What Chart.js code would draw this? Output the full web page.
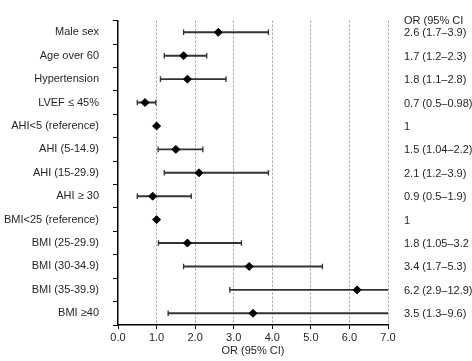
<!DOCTYPE html>
<html>
<head>
<meta charset="utf-8">
<script src="https://cdn.jsdelivr.net/npm/chart.js@4.4.1/dist/chart.umd.min.js"></script>
<style>
  html, body { margin: 0; padding: 0; background: #fff; }
  canvas { display: block; }
</style>
</head>
<body>
<canvas id="forest" width="472" height="361"></canvas>
<script>
// rows of the forest plot, top to bottom
var categories = ['Male sex', 'Age over 60', 'Hypertension', 'LVEF \u2264 45%', 'AHI<5 (reference)',
    'AHI (5-14.9)', 'AHI (15-29.9)', 'AHI \u2265 30', 'BMI<25 (reference)', 'BMI (25-29.9)',
    'BMI (30-34.9)', 'BMI (35-39.9)', 'BMI \u226540'];
var oddsRatio = [2.6, 1.7, 1.8, 0.7, 1, 1.5, 2.1, 0.9, 1, 1.8, 3.4, 6.2, 3.5];
var ciLow  = [1.7, 1.2, 1.1, 0.5, null, 1.04, 1.2, 0.5, null, 1.05, 1.7, 2.9, 1.3];
var ciHigh = [3.9, 2.3, 2.8, 0.98, null, 2.2, 3.9, 1.9, null, 3.2, 5.3, 12.9, 9.6];
// right column text as printed in the figure
var ciText = ['2.6 (1.7\u20133.9)', '1.7 (1.2\u20132.3)', '1.8 (1.1\u20132.8)', '0.7 (0.5\u20130.98)', '1',
    '1.5 (1.04\u20132.2)', '2.1 (1.2\u20133.9)', '0.9 (0.5\u20131.9)', '1', '1.8 (1.05\u20133.2',
    '3.4 (1.7\u20135.3)', '6.2 (2.9\u201312.9)', '3.5 (1.3\u20139.6)'];
var xTicks = [0, 1, 2, 3, 4, 5, 6, 7];

var textColor = '#262626';
var lineColor = '#333333';
var fontFamily = '"Liberation Sans", Arial, sans-serif';

// right hand column "OR (95% CI)"
var orColumn = {
    id: 'orColumn',
    afterDraw: function (chart) {
        var ctx = chart.ctx;
        var area = chart.chartArea;
        var yScale = chart.scales.y;
        var x = area.right + 16;
        ctx.save();
        ctx.font = '11px ' + fontFamily;
        ctx.fillStyle = textColor;
        ctx.textAlign = 'left';
        ctx.textBaseline = 'middle';
        ctx.fillText('OR (95% CI', x, area.top);
        ciText.forEach(function (txt, i) {
            ctx.fillText(txt, x, yScale.getPixelForValue(i) + 1);
        });
        ctx.restore();
    }
};

var ciBars = categories.map(function (c, i) {
    return ciLow[i] == null ? null : [ciLow[i], ciHigh[i]];
});

var ctx = document.getElementById('forest').getContext('2d');
new Chart(ctx, {
    type: 'bar',
    data: {
        labels: categories,
        datasets: [{
            type: 'line',
            indexAxis: 'y',
            data: oddsRatio,
            showLine: false,
            pointStyle: 'rectRot',
            pointRadius: 4,
            pointBackgroundColor: '#000',
            pointBorderColor: '#000',
            pointBorderWidth: 1
        }, {
            type: 'line',
            indexAxis: 'y',
            data: ciLow,
            showLine: false,
            pointStyle: 'line',
            rotation: 90,
            pointRadius: 2.8,
            pointBorderColor: lineColor,
            pointBorderWidth: 1.3
        }, {
            type: 'line',
            indexAxis: 'y',
            data: ciHigh,
            showLine: false,
            pointStyle: 'line',
            rotation: 90,
            pointRadius: 2.8,
            pointBorderColor: lineColor,
            pointBorderWidth: 1.3
        }, {
            data: ciBars,
            backgroundColor: lineColor,
            barThickness: 1.3,
            borderWidth: 0
        }]
    },
    options: {
        indexAxis: 'y',
        responsive: false,
        animation: false,
        layout: { padding: { top: 14, right: 84, left: 0, bottom: 0 } },
        plugins: { legend: { display: false }, tooltip: { enabled: false } },
        scales: {
            x: {
                type: 'linear',
                min: 0,
                max: 7,
                afterBuildTicks: function (scale) {
                    scale.ticks = xTicks.map(function (v) { return { value: v }; });
                },
                afterFit: function (scale) { scale.height = 36; },
                grid: {
                    color: function (c) { return c.index === 0 ? 'rgba(0,0,0,0)' : '#9a9a9a'; },
                    lineWidth: 1,
                    tickColor: '#000',
                    tickBorderDash: [],
                    tickLength: 4
                },
                border: { display: true, color: '#000', width: 1.5, dash: [2, 2] },
                ticks: {
                    padding: 2,
                    color: textColor,
                    font: { family: fontFamily, size: 11 },
                    callback: function (v) { return v.toFixed(1); }
                },
                title: {
                    display: true,
                    text: 'OR (95% CI)',
                    color: textColor,
                    padding: { top: 0, bottom: 3 },
                    font: { family: fontFamily, size: 11 }
                }
            },
            y: {
                afterFit: function (scale) { scale.width = 118; },
                grid: {
                    drawOnChartArea: false,
                    tickColor: '#000',
                    tickLength: 5,
                    lineWidth: 1
                },
                border: { display: true, color: '#000', width: 1.5 },
                ticks: {
                    padding: 14,
                    color: textColor,
                    autoSkip: false,
                    font: { family: fontFamily, size: 11 }
                }
            }
        }
    },
    plugins: [orColumn]
});
</script>
</body>
</html>
